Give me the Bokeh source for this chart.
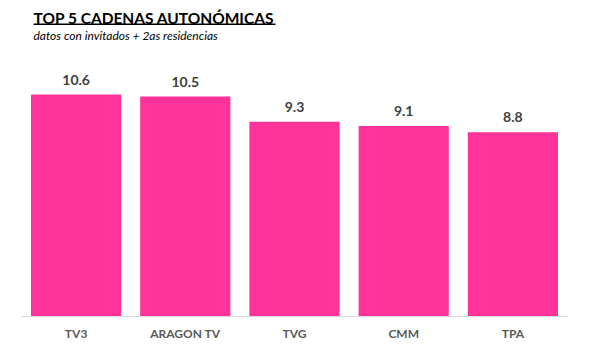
from bokeh.plotting import figure
from bokeh.models import ColumnDataSource, Range1d, Label, BoxAnnotation
from bokeh.core.properties import value
from bokeh.embed import file_html
from bokeh.resources import INLINE

categories = ["TV3", "ARAGON TV", "TVG", "CMM", "TPA"]
values = [10.6, 10.5, 9.3, 9.1, 8.8]
labels = ["10.6", "10.5", "9.3", "9.1", "8.8"]

title_text = "TOP 5 CADENAS AUTONÓMICAS"
subtitle_text = "datos con invitados + 2as residencias"

FONT = "Lato"
PINK = "#FF3399"

src = ColumnDataSource(dict(cat=categories, val=values, lab=labels))

# frame spans canvas x 21..567, y 0..316
p = figure(width=595, height=354, x_range=categories, y_range=Range1d(0, 15.09),
           output_backend="svg", toolbar_location=None,
           min_border_left=21, min_border_right=28, min_border_top=0, min_border_bottom=38)
p.outline_line_color = None
p.xgrid.grid_line_color = None
p.ygrid.grid_line_color = None
p.yaxis.visible = False
p.x_range.range_padding = 0

p.vbar(x="cat", top="val", width=0.826, source=src, fill_color=PINK, line_color=None)
p.text(x="cat", y="val", text="lab", source=src, text_align="center",
       text_baseline="alphabetic", y_offset=-15, text_font=value(FONT),
       text_font_style="bold", text_font_size="14px", text_color="#404040")

ax = p.xaxis[0]
ax.axis_line_color = "#d9d9d9"
ax.axis_line_width = 1
ax.major_tick_line_color = None
ax.minor_tick_line_color = None
ax.major_label_text_font = FONT
ax.major_label_text_font_style = "bold"
ax.major_label_text_font_size = "12px"
ax.major_label_text_color = "#595959"
ax.major_label_standoff = 3

FL, FB = 21, 316
t = Label(x=33 - FL, y=FB - 17, x_units="screen", y_units="screen", text=title_text,
          text_font=FONT, text_font_style="bold", text_font_size="15.5px",
          text_color="#000000", text_baseline="middle")
s = Label(x=33 - FL, y=FB - 35, x_units="screen", y_units="screen", text=subtitle_text,
          text_font=FONT, text_font_style="italic", text_font_size="12px",
          text_color="#000000", text_baseline="middle")
p.add_layout(t)
p.add_layout(s)
u = BoxAnnotation(left=33 - FL, right=275 - FL, top=FB - 23, bottom=FB - 24.5,
                  left_units="screen", right_units="screen", top_units="screen", bottom_units="screen",
                  fill_color="#000000", fill_alpha=1, line_color=None)
p.add_layout(u)

open("out.html", "w").write(file_html(p, INLINE))
